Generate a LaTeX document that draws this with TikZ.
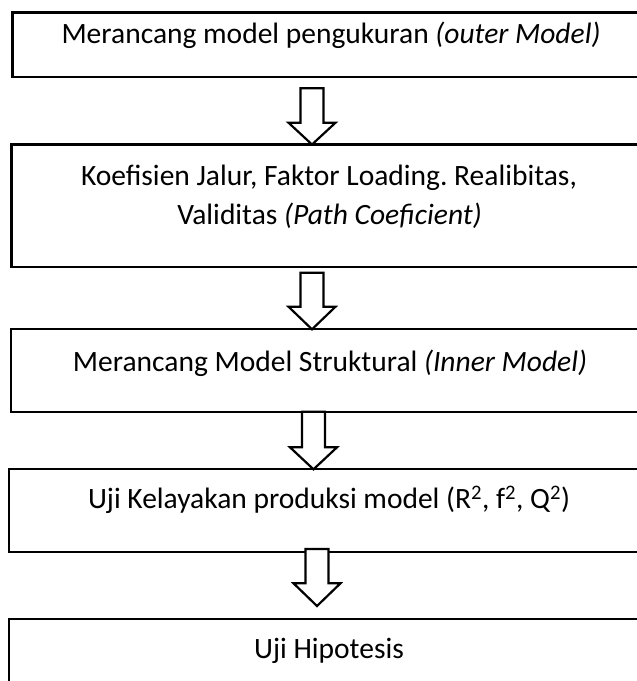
\documentclass[tikz,border=0pt]{standalone}
\usepackage{fontspec}
\setmainfont{Carlito}
\frenchspacing
\newcommand\blockarrow[4]{% x, shaft top, head base, tip
  \draw[blockarrowstyle] (#1-11.5,#2) -- (#1+11.5,#2) -- (#1+11.5,#3) -- (#1+23.5,#3)
    -- (#1,#4) -- (#1-23.5,#3) -- (#1-11.5,#3) -- cycle;}
\begin{document}
\begin{tikzpicture}[x=1pt,y=-1pt,
  box/.style={draw, line width=2.2pt, rectangle, inner sep=0pt, outer sep=0pt, anchor=north west},
  lbl/.style={anchor=base, inner sep=0pt, font=\fontsize{29.5}{38}\selectfont, align=center},
  blockarrowstyle/.style={draw, fill=white, line width=2.2pt, line join=miter}]
\useasboundingbox (0,0) rectangle (637,681);
\clip (0,0) rectangle (637,681);
\fill[white] (0,0) rectangle (637,681);
% boxes
\node[box, minimum width=637, minimum height=64.8] (b1) at (12.5,12.5) {};
\node[box, minimum width=638, minimum height=122.5] (b2) at (11.4,144.5) {};
\node[box, minimum width=638, minimum height=82.4] (b3) at (11,329.3) {};
\node[box, minimum width=640, minimum height=82.4] (b4) at (9,469.3) {};
\node[box, minimum width=640, minimum height=120] (b5) at (9,619.3) {};
% texts
\node[lbl] (t1) at (331,43.3) {Merancang model pengukuran \textit{(outer Model)}};
\node[lbl] (t2a) at (329,185.7) {Koefisien Jalur, Faktor Loading. Realibitas,};
\node[lbl] (t2b) at (329.5,224) {Validitas \textit{(Path Coeficient)}};
\node[lbl] (t3) at (330,371) {Merancang Model Struktural \textit{(Inner Model)}};
\node[lbl] (t4) at (329,508.3) {Uji Kelayakan produksi model (R\textsuperscript{2}, f\textsuperscript{2}, Q\textsuperscript{2})};
\node[lbl] (t5) at (329,658.3) {Uji Hipotesis};
% arrows
\blockarrow{312}{88.3}{122.7}{144.5}
\blockarrow{312}{272.7}{306.7}{329.3}
\blockarrow{313.5}{411.7}{447.3}{469.3}
\blockarrow{317}{549}{583.3}{606}
\end{tikzpicture}
\end{document}
